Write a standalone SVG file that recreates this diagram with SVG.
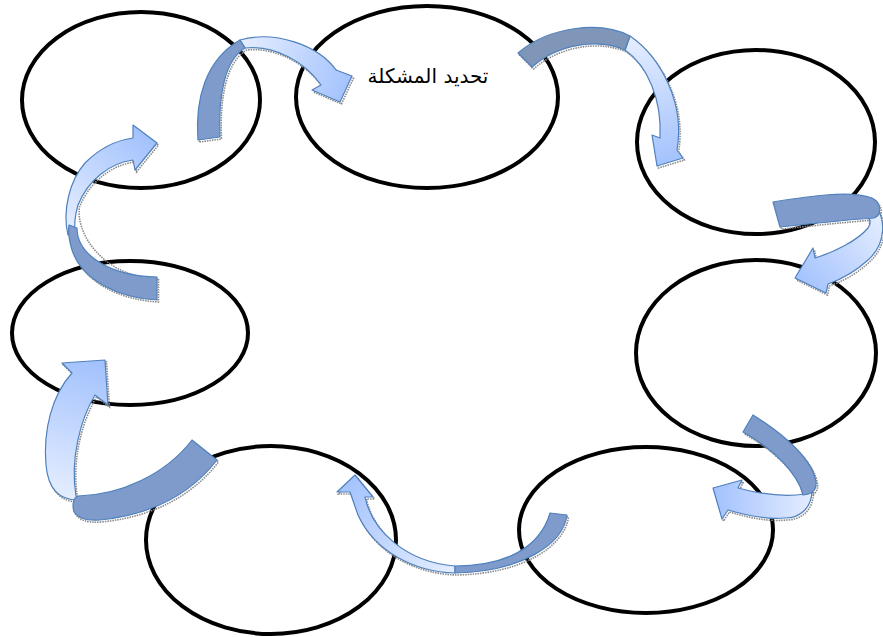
<svg xmlns="http://www.w3.org/2000/svg" width="883" height="637" viewBox="0 0 883 637">
  <style>
    .node { fill: #ffffff; stroke: #000000; stroke-width: 4; }
    .label { font-family: "DejaVu Sans", "Noto Sans", sans-serif; font-size: 20px; fill: #000000; }
    .tail { fill: #7e9bcb; stroke: #4f81bd; stroke-width: 1.2; stroke-linejoin: round; }
    .head { stroke: #4f81bd; stroke-width: 1.2; stroke-linejoin: round; }
    .shadow { fill: none; stroke: #8a8a8a; stroke-width: 1.6; stroke-dasharray: 1.5 1; }
  </style>
  <defs>
    <linearGradient id="g1" gradientUnits="userSpaceOnUse" x1="240" y1="45" x2="350" y2="90">
      <stop offset="0" stop-color="#e4edff"/><stop offset="1" stop-color="#a3c2fd"/>
    </linearGradient>
    <linearGradient id="g2" gradientUnits="userSpaceOnUse" x1="630" y1="40" x2="665" y2="165">
      <stop offset="0" stop-color="#e4edff"/><stop offset="1" stop-color="#a3c2fd"/>
    </linearGradient>
    <linearGradient id="g3" gradientUnits="userSpaceOnUse" x1="880" y1="215" x2="800" y2="285">
      <stop offset="0" stop-color="#e4edff"/><stop offset="1" stop-color="#a3c2fd"/>
    </linearGradient>
    <linearGradient id="g4" gradientUnits="userSpaceOnUse" x1="812" y1="500" x2="715" y2="500">
      <stop offset="0" stop-color="#e4edff"/><stop offset="1" stop-color="#a3c2fd"/>
    </linearGradient>
    <linearGradient id="g5" gradientUnits="userSpaceOnUse" x1="455" y1="570" x2="345" y2="480">
      <stop offset="0" stop-color="#e4edff"/><stop offset="1" stop-color="#a3c2fd"/>
    </linearGradient>
    <linearGradient id="g6" gradientUnits="userSpaceOnUse" x1="60" y1="495" x2="100" y2="365">
      <stop offset="0" stop-color="#e4edff"/><stop offset="1" stop-color="#a3c2fd"/>
    </linearGradient>
    <linearGradient id="g7" gradientUnits="userSpaceOnUse" x1="72" y1="230" x2="150" y2="140">
      <stop offset="0" stop-color="#e4edff"/><stop offset="1" stop-color="#a3c2fd"/>
    </linearGradient>
  </defs>

  <!-- cycle stages -->
  <g id="stage-top-left"><ellipse class="node" cx="141" cy="100" rx="119" ry="88"/></g>
  <g id="stage-define-problem">
    <ellipse class="node" cx="427" cy="97" rx="131" ry="91"/>
    <text class="label" x="428" y="83" text-anchor="middle" direction="rtl">تحديد المشكلة</text>
  </g>
  <g id="stage-right-top"><ellipse class="node" cx="756" cy="142" rx="119" ry="92"/></g>
  <g id="stage-right-middle"><ellipse class="node" cx="756" cy="353" rx="120" ry="93"/></g>
  <g id="stage-bottom-right"><ellipse class="node" cx="646" cy="530" rx="127" ry="83"/></g>
  <g id="stage-bottom-center"><ellipse class="node" cx="271" cy="540" rx="125" ry="94"/></g>
  <g id="stage-left-middle"><ellipse class="node" cx="130" cy="333" rx="118" ry="72"/></g>

  <!-- curved arrows between stages -->
  <g id="connectors">
    <g id="arrow-1">
      <g class="shadow" transform="translate(1.5,2)">
        <path d="M198,140 C195,100 205,60 240,40 C275,30 318,45 336,70 L352,76 L340,102 L312,90 L321,85 C305,62 275,45 245,48 C225,60 218,95 220,137 Z"/>
      </g>
      <path class="head" fill="url(#g1)" d="M240,40 C275,30 318,45 336,70 L352,76 L340,102 L312,90 L321,85 C305,62 275,45 245,48 Z"/>
      <path class="tail" d="M198,140 C195,100 205,60 240,40 L245,48 C225,60 218,95 220,137 Z"/>
    </g>
    <g id="arrow-2">
      <g class="shadow" transform="translate(1.5,2)">
        <path d="M518,53 C548,27 600,20 630,36 C662,58 685,105 677,150 L683,158 L657,166 L652,135 L660,138 C662,100 648,66 625,50 C598,38 558,44 532,67 Z"/>
      </g>
      <path class="head" fill="url(#g2)" d="M630,36 C662,58 685,105 677,150 L683,158 L657,166 L652,135 L660,138 C662,100 648,66 625,50 Z"/>
      <path class="tail" style="fill:#8096b9" d="M518,53 C548,27 600,20 630,36 L625,50 C598,38 558,44 532,67 Z"/>
    </g>
    <g id="arrow-3">
      <g class="shadow" transform="translate(1.5,2)">
        <path d="M868,200 C890,215 885,245 868,260 C855,272 842,279 828,284 L826,293 L795,278 L813,248 L815,258 C835,252 858,240 868,228 Z"/>
        <path d="M773,202 C810,196 850,190 872,198 C882,203 882,215 874,218 C845,220 810,224 780,227 Z"/>
      </g>
      <path class="head" fill="url(#g3)" d="M868,200 C890,215 885,245 868,260 C855,272 842,279 828,284 L826,293 L795,278 L813,248 L815,258 C835,252 858,240 868,228 C872,222 870,218 866,217 Z"/>
      <path class="tail" d="M773,202 C810,196 850,190 872,198 C882,203 882,215 874,218 C845,220 810,224 780,227 Z"/>
    </g>
    <g id="arrow-4">
      <g class="shadow" transform="translate(1.5,2)">
        <path d="M812,490 C812,508 800,518 785,518 C765,520 745,515 728,510 L722,519 L713,488 L742,480 L738,488 C760,494 785,497 805,494 Z"/>
        <path d="M753,415 C785,435 813,460 816,482 C817,490 812,494 803,495 C798,474 775,450 743,432 Z"/>
      </g>
      <path class="head" fill="url(#g4)" d="M812,490 C812,508 800,518 785,518 C765,520 745,515 728,510 L722,519 L713,488 L742,480 L738,488 C760,494 785,497 805,494 Z"/>
      <path class="tail" d="M753,415 C785,435 813,460 816,482 C817,490 812,494 803,495 C798,474 775,450 743,432 Z"/>
    </g>
    <g id="arrow-5">
      <g class="shadow" transform="translate(1.5,2)">
        <path d="M550,513 L567,515 C563,545 520,572 455,573 C415,572 375,552 358,515 L350,492 L337,492 L355,475 L373,497 L365,497 C372,530 405,562 455,566 C505,566 540,548 550,513 Z"/>
      </g>
      <path class="head" fill="url(#g5)" d="M455,573 C415,572 375,552 358,515 L350,492 L337,492 L355,475 L373,497 L365,497 C372,530 405,562 455,566 Z"/>
      <path class="tail" d="M550,513 L567,515 C563,545 520,572 455,573 L455,566 C505,566 540,548 550,513 Z"/>
    </g>
    <g id="arrow-6">
      <g class="shadow" transform="translate(1.5,2)">
        <path d="M78,500 C58,500 48,488 46,465 C43,430 52,395 72,373 L62,363 L105,360 L108,405 L95,395 C80,420 70,460 76,496 Z"/>
        <path d="M192,440 L217,460 C190,495 150,515 100,520 C85,521 78,518 74,512 C72,505 73,498 78,496 C120,495 165,475 192,440 Z"/>
      </g>
      <path class="head" fill="url(#g6)" d="M78,500 C58,500 48,488 46,465 C43,430 52,395 72,373 L62,363 L105,360 L108,405 L95,395 C80,420 70,460 76,496 Z"/>
      <path class="tail" d="M192,440 L217,460 C190,495 150,515 100,520 C85,521 78,518 74,512 C72,505 73,498 78,496 C120,495 165,475 192,440 Z"/>
    </g>
    <g id="arrow-7">
      <g class="shadow" transform="translate(1.5,2)">
        <path d="M157,277 L157,300 C118,298 82,280 72,250 C62,220 68,185 85,163 C100,148 118,140 133,138 L133,125 L157,143 L135,170 L133,160 C110,163 88,180 78,205 C74,230 100,275 157,277 Z"/>
      </g>
      <path class="head" fill="url(#g7)" d="M68,235 C62,210 70,180 85,163 C100,148 118,140 133,138 L133,125 L157,143 L135,170 L133,160 C110,163 88,180 78,205 C75,215 74,225 75,235 Z"/>
      <path class="tail" d="M157,277 L157,300 C118,298 82,280 72,250 C69,240 68,232 69,225 L77,228 C77,255 110,276 157,277 Z"/>
    </g>
  </g>
</svg>
